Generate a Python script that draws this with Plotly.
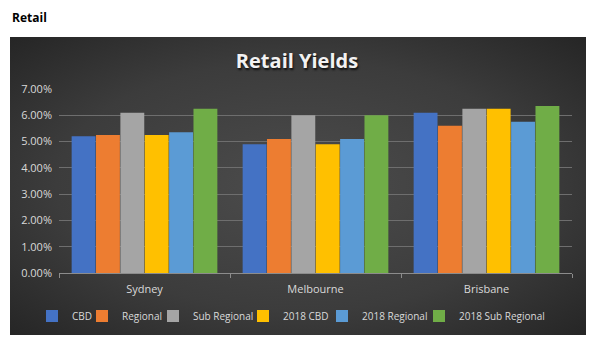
import base64
import plotly.graph_objects as go

# Retail yield data (fractions)
cities = ["Sydney", "Melbourne", "Brisbane"]
series_names = ["CBD", "Regional", "Sub Regional", "2018 CBD", "2018 Regional", "2018 Sub Regional"]
cbd = [0.0520, 0.0490, 0.0610]
regional = [0.0525, 0.0510, 0.0560]
sub_regional = [0.0610, 0.0600, 0.0625]
cbd_2018 = [0.0525, 0.0490, 0.0625]
regional_2018 = [0.0535, 0.0510, 0.0575]
sub_regional_2018 = [0.0625, 0.0600, 0.0635]
y_ticks = [0.0, 0.01, 0.02, 0.03, 0.04, 0.05, 0.06, 0.07]

series_values = [cbd, regional, sub_regional, cbd_2018, regional_2018, sub_regional_2018]
colors = ["#4472C4", "#ED7D31", "#A5A5A5", "#FFC000", "#5B9BD5", "#70AD47"]

W, H = 594, 348
L, R, T, B = 59, 22, 89, 75
PW, PH = W - L - R, H - T - B


def px_x(x):
    return (x - L) / PW


def px_y(y):
    return (H - B - y) / PH


font_family = "Open Sans, Noto Sans, sans-serif"

# one single-entry legend per series so the row stays on one line;
# values are the pixel centres of each legend swatch
legend_swatch_x = [52, 102, 173, 263, 342, 439]
legend_ids = [f"legend{i}" for i in range(2, 8)]

fig = go.Figure()
for name, vals, col, lid in zip(series_names, series_values, colors, legend_ids):
    fig.add_trace(go.Bar(
        name=name, x=cities, y=vals, legend=lid,
        marker=dict(color=col, line=dict(width=0)),
    ))

legend_layouts = {}
for lid, sx in zip(legend_ids, legend_swatch_x):
    legend_layouts[lid] = dict(
        orientation="h", x=px_x(sx - 20), xanchor="left",
        y=px_y(316), yanchor="middle",
        font=dict(family=font_family, size=10, color="#d9d9d9"),
        bgcolor="rgba(0,0,0,0)", itemwidth=30,
    )

# Dark radial-gradient panel behind the chart
svg = (
    '<svg xmlns="http://www.w3.org/2000/svg" width="576" height="298" '
    'viewBox="0 0 576 298" preserveAspectRatio="none">'
    '<defs><radialGradient id="g" cx="50%" cy="50%" r="70%">'
    '<stop offset="0" stop-color="#4c4c4c"/>'
    '<stop offset="0.6" stop-color="#3c3c3c"/>'
    '<stop offset="1" stop-color="#262626"/>'
    '</radialGradient></defs>'
    '<rect width="576" height="298" fill="url(#g)"/></svg>'
)
src = "data:image/svg+xml;base64," + base64.b64encode(svg.encode()).decode()

fig.update_layout(
    width=W, height=H,
    margin=dict(l=L, r=R, t=T, b=B),
    paper_bgcolor="white",
    plot_bgcolor="rgba(0,0,0,0)",
    barmode="group",
    bargap=0.145,
    bargroupgap=0.02,
    showlegend=True,
    font=dict(family=font_family, color="#d9d9d9", size=11),
    images=[dict(
        source=src, xref="paper", yref="paper",
        x=px_x(10), y=px_y(37),
        sizex=576 / PW, sizey=298 / PH,
        sizing="stretch", xanchor="left", yanchor="top", layer="below",
    )],
    title=dict(
        text="<b>Retail Yields</b>",
        x=0.5, xanchor="center",
        y=1 - 61 / H, yanchor="middle", yref="container",
        font=dict(family=font_family, size=20, color="#f2f2f2",
                  shadow="1px 2px 2px #111111"),
    ),
    xaxis=dict(
        showgrid=False, showline=True, linecolor="#8c8c8c", linewidth=1,
        ticks="outside", tickson="boundaries", ticklen=4, tickcolor="#8c8c8c",
        tickfont=dict(size=11, color="#d9d9d9"),
        ticklabelstandoff=6,
    ),
    yaxis=dict(
        range=[0, 0.07], tickvals=y_ticks, tickformat=".2%",
        showgrid=True, gridcolor="#6e6e6e", gridwidth=1,
        zeroline=False, showline=False,
        tickfont=dict(size=11, color="#d9d9d9"),
        ticklabelstandoff=6,
    ),
    annotations=[dict(
        text="<b>Retail</b>", xref="paper", yref="paper",
        x=px_x(10), y=px_y(17), xanchor="left", yanchor="middle",
        showarrow=False,
        font=dict(family=font_family, size=12, color="#000000"),
    )],
    **legend_layouts,
)

fig.write_html("out.html")
